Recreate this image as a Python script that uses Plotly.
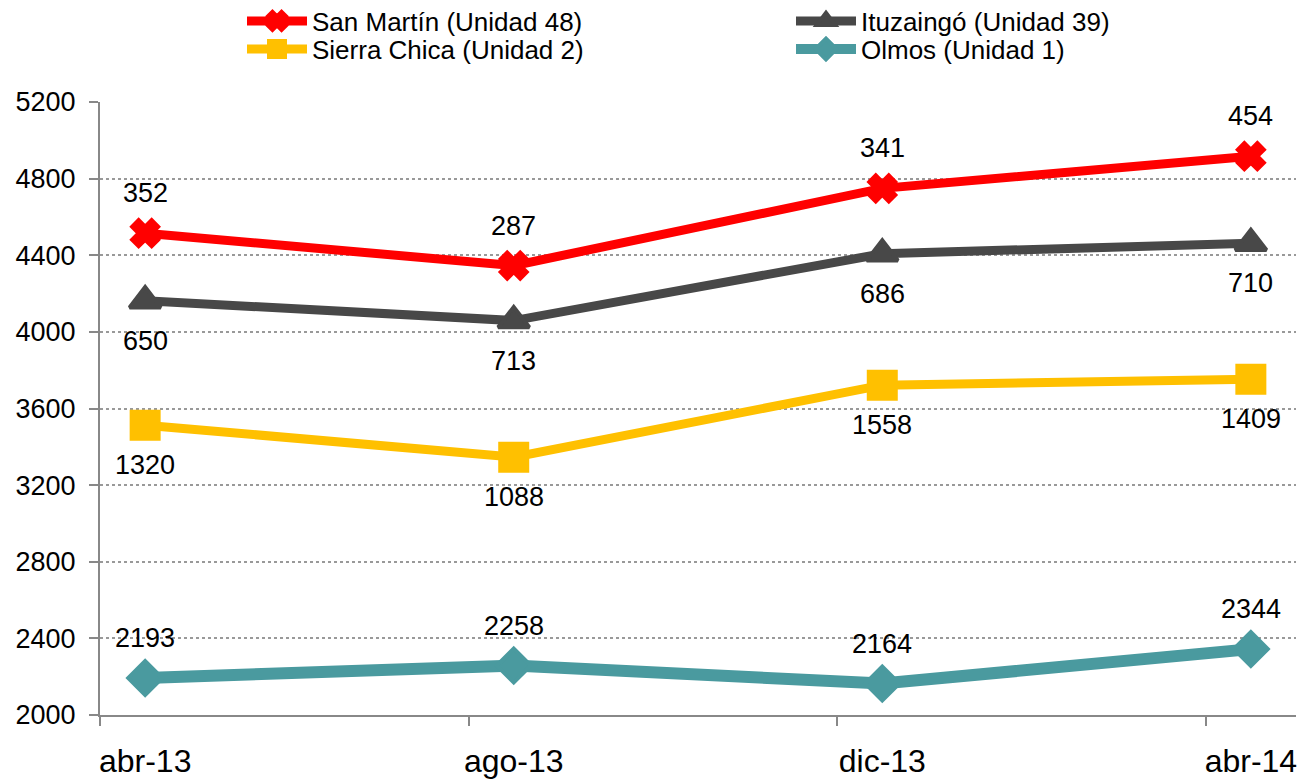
import numpy as np
import plotly.graph_objects as go

categories = ["abr-13", "ago-13", "dic-13", "abr-14"]
olmos = [2193, 2258, 2164, 2344]
sierra_chica = [1320, 1088, 1558, 1409]
ituzaingo = [650, 713, 686, 710]
san_martin = [352, 287, 341, 454]
y_ticks = [2000, 2400, 2800, 3200, 3600, 4000, 4400, 4800, 5200]

FONT = "Arial, Liberation Sans, sans-serif"
W, H = 1304, 772
x = np.arange(len(categories))
offset = 0.122  # category-axis padding / tick offset

# stacked cumulative levels (the chart is a stacked line chart)
lvl_olmos = np.array(olmos)
lvl_sierra = lvl_olmos + np.array(sierra_chica)
lvl_ituz = lvl_sierra + np.array(ituzaingo)
lvl_sm = lvl_ituz + np.array(san_martin)

# name, labels, levels, color, symbol, marker size, line width, label shift, legend id, legend pos (px)
series = [
    ("San Martín (Unidad 48)", san_martin, lvl_sm, "#FF0000", "x", 23, 9, 40, "legend", (234, 13)),
    ("Ituzaingó (Unidad 39)", ituzaingo, lvl_ituz, "#484848", "triangle-up", 27, 9, -40, "legend2", (783, 13)),
    ("Sierra Chica (Unidad 2)", sierra_chica, lvl_sierra, "#FFC000", "square", 27, 9, -40, "legend3", (234, 41)),
    ("Olmos (Unidad 1)", olmos, lvl_olmos, "#4A9A9F", "diamond", 26, 12, 40, "legend4", (783, 41)),
]

fig = go.Figure()
annotations = []
legends = {}
for name, vals, lvl, color, sym, msize, lw, shift, leg, (lx, ly) in series:
    fig.add_trace(go.Scatter(
        x=x, y=lvl, name=name, mode="lines+markers",
        line=dict(color=color, width=lw),
        marker=dict(symbol=sym, size=msize, color=color,
                    line=dict(color=color, width=4)),
        hoverinfo="skip", legend=leg,
    ))
    legends[leg] = dict(
        x=lx / W, y=1 - ly / H, xref="container", yref="container",
        xanchor="left", yanchor="middle",
        itemwidth=60, font=dict(family=FONT, size=26, color="#000000"),
        bgcolor="rgba(0,0,0,0)", borderwidth=0,
    )
    for xi, yi, v in zip(x, lvl, vals):
        annotations.append(dict(
            x=xi, y=yi, xref="x", yref="y", text=str(v), showarrow=False,
            yshift=shift, font=dict(family=FONT, size=27, color="#000000"),
        ))

fig.update_layout(
    width=W, height=H,
    margin=dict(l=92, r=16, t=94, b=65, autoexpand=False),
    paper_bgcolor="white", plot_bgcolor="white",
    font=dict(family=FONT, color="#000000"),
    showlegend=True,
    annotations=annotations,
    xaxis=dict(
        range=[-offset - 0.0005, len(categories) - 1 + offset + 0.0005],
        tickmode="array",
        tickvals=[i - offset for i in x],
        ticktext=categories,
        ticklabelshift=45,
        ticklabelstandoff=8,
        ticks="outside", ticklen=9, tickwidth=2, tickcolor="#888888",
        showline=True, linecolor="#888888", linewidth=2,
        showgrid=False, zeroline=False,
        tickfont=dict(family=FONT, size=32, color="#000000"),
    ),
    yaxis=dict(
        range=[2000, 5200], tickmode="array", tickvals=y_ticks,
        ticks="outside", ticklen=9, tickwidth=2, tickcolor="#888888",
        ticklabelstandoff=8,
        showline=True, linecolor="#888888", linewidth=2,
        showgrid=True, gridcolor="#999999", gridwidth=1.5, griddash="dot",
        zeroline=False,
        tickfont=dict(family=FONT, size=27, color="#000000"),
    ),
    **legends,
)

fig.write_html("out.html")
